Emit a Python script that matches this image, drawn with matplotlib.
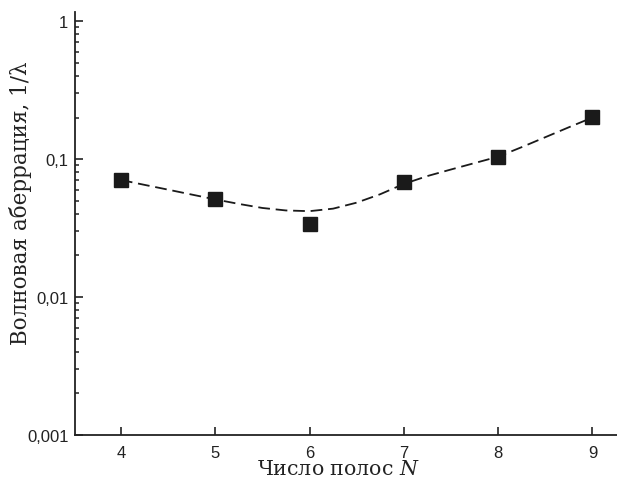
import matplotlib
matplotlib.use("Agg")
import matplotlib.pyplot as plt
from matplotlib.ticker import FixedLocator, LogLocator, NullFormatter

plt.rcParams["mathtext.fontset"] = "dejavuserif"

# measured points
n_bands = [4, 5, 6, 7, 8, 9]
aberration = [0.0705, 0.051, 0.034, 0.068, 0.103, 0.201]

# dashed trend curve
curve_x = [4.0, 4.25, 4.5, 4.75, 5.0, 5.25, 5.5, 5.75, 6.0, 6.25, 6.5,
           6.75, 7.0, 7.25, 7.5, 7.75, 8.0, 8.25, 8.5, 8.75, 9.0]
curve_y = [0.0705, 0.065, 0.060, 0.0553, 0.051, 0.0473, 0.0442, 0.0424,
           0.0419, 0.0437, 0.0483, 0.0556, 0.066, 0.0753, 0.084, 0.0935,
           0.104, 0.122, 0.144, 0.170, 0.200]

x_ticks = [4, 5, 6, 7, 8, 9]
y_ticks = [0.001, 0.01, 0.1, 1]
y_labels = ["0,001", "0,01", "0,1", "1"]

fig = plt.figure(figsize=(6.17, 4.81), dpi=100)
ax = fig.add_axes([0.121, 0.0936, 0.879, 0.879])

ax.plot(curve_x, curve_y, color="#1a1a1a", lw=1.3, ls=(0, (6.5, 3.2)))
ax.plot(n_bands, aberration, ls="none", marker="s", ms=9.5,
        color="#1a1a1a", mec="#1a1a1a")

ax.set_yscale("log")
ax.set_xlim(3.51, 9.26)
ax.set_ylim(0.001, 1.16)

ax.xaxis.set_major_locator(FixedLocator(x_ticks))
ax.set_xticklabels([str(t) for t in x_ticks])
ax.yaxis.set_major_locator(FixedLocator(y_ticks))
ax.set_yticklabels(y_labels)
ax.yaxis.set_minor_locator(LogLocator(base=10, subs=range(2, 10)))
ax.yaxis.set_minor_formatter(NullFormatter())

for side in ["top", "right"]:
    ax.spines[side].set_visible(False)
for side in ["left", "bottom"]:
    ax.spines[side].set_linewidth(1.3)
    ax.spines[side].set_color("#222222")

ax.tick_params(axis="both", which="major", direction="in", length=5.5,
               width=1.2, color="#222222", labelsize=12,
               labelcolor="#222222")
ax.tick_params(axis="x", which="major", pad=7.5)
ax.tick_params(axis="y", which="major", pad=4.5)
ax.tick_params(axis="y", which="minor", direction="in", length=3,
               width=1.1, color="#222222")
for lab in ax.get_xticklabels() + ax.get_yticklabels():
    lab.set_family("Liberation Sans")

ax.set_xlabel("Число полос $N$", family="DejaVu Serif", fontsize=14.8,
              color="#222222", va="baseline")
ax.xaxis.set_label_coords(0.4855, -0.0922)
ax.set_ylabel("Волновая аберрация, 1/λ", family="DejaVu Serif",
              fontsize=15.5, color="#222222", va="center")
ax.yaxis.set_label_coords(-0.099, 0.55)

fig.savefig("out.png", dpi=100)
